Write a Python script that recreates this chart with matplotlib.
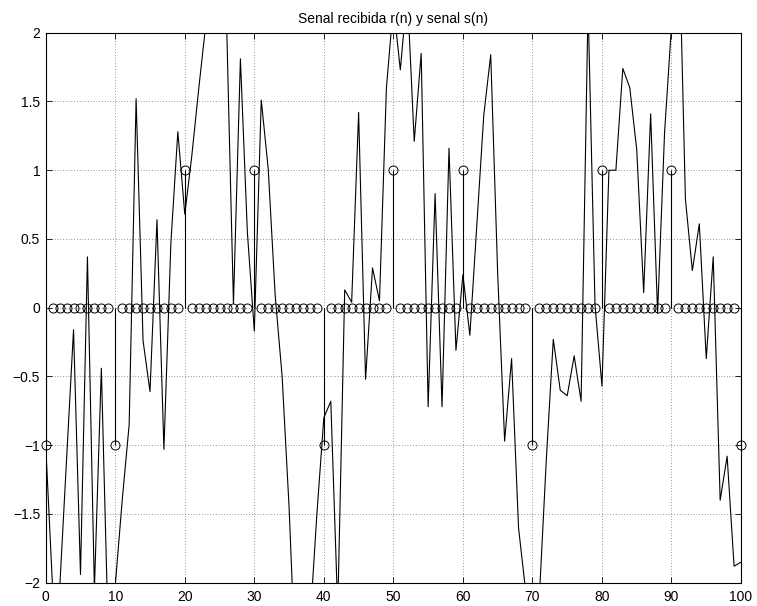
import numpy as np
import matplotlib
matplotlib.use("Agg")
import matplotlib.pyplot as plt

# Received signal r(n), n = 0..100
r_values = [
    -1.0, -2.05, -2.05, -1.1, -0.16, -1.94, 0.37, -2.05, -0.44, -2.4,
    -2.02, -1.4, -0.85, 1.52, -0.24, -0.61, 0.64, -1.03, 0.47, 1.28,
    0.68, 1.1, 1.59, 2.05, 2.6, 2.4, 2.1, 0.03, 1.81, 0.55,
    -0.17, 1.51, 1.01, 0.09, -0.5, -1.45, -2.7, -2.5, -2.3, -1.5,
    -0.8, -0.68, -2.2, 0.13, 0.04, 1.42, -0.52, 0.29, 0.05, 1.6,
    2.2, 1.73, 2.3, 1.21, 1.85, -0.72, 0.83, -0.72, 1.16, -0.31,
    0.24, -0.2, 0.6, 1.4, 1.84, 0.25, -0.97, -0.37, -1.6, -2.05,
    -2.5, -2.1, -1.1, -0.23, -0.6, -0.64, -0.35, -0.68, 2.2, 0.02,
    -0.57, 1.0, 1.0, 1.74, 1.6, 1.15, 0.11, 1.41, -0.04, 1.27,
    2.05, 2.9, 0.79, 0.27, 0.61, -0.37, 0.37, -1.4, -1.08, -1.88,
    -1.85,
]

# Transmitted signal s(n): nonzero samples (index -> value), zeros elsewhere
s_nonzero_n = [0, 10, 20, 30, 40, 50, 60, 70, 80, 90, 100]
s_nonzero_v = [-1, -1, 1, 1, -1, 1, 1, -1, 1, 1, -1]

x_ticks = [0, 10, 20, 30, 40, 50, 60, 70, 80, 90, 100]
y_ticks = [-2, -1.5, -1, -0.5, 0, 0.5, 1, 1.5, 2]
y_tick_labels = ["\u22122", "\u22121.5", "\u22121", "\u22120.5", "0", "0.5", "1", "1.5", "2"]
title_text = "Senal recibida r(n) y senal s(n)"

n = np.arange(len(r_values))
r = np.array(r_values)
s = np.zeros(len(r_values))
s[s_nonzero_n] = s_nonzero_v

plt.rcParams['font.family'] = ['Liberation Sans', 'DejaVu Sans']

fig = plt.figure(figsize=(7.57, 6.06), dpi=100)
ax = fig.add_axes([0.0604, 0.0384, 0.9185, 0.9076])

ax.plot(n, r, color='black', lw=0.8, zorder=3)
ax.vlines(n, 0, s, color='black', lw=0.8, zorder=3)
ax.plot(n, s, 'o', color='black', mfc='none', ms=6.5, mew=0.7, zorder=4, clip_on=False)

ax.set_xlim(0, 100)
ax.set_ylim(-2, 2)
ax.set_xticks(x_ticks)
ax.set_xticklabels([str(t) for t in x_ticks])
ax.set_yticks(y_ticks)
ax.set_yticklabels(y_tick_labels)

ax.grid(True, color='black', linestyle=(0, (1, 3)), lw=0.5, alpha=0.8)
ax.tick_params(direction='in', length=4, width=0.6, top=True, right=True,
               labelsize=10, pad=5)
ax.tick_params(axis='y', pad=4)
for sp in ax.spines.values():
    sp.set_linewidth(0.8)

ax.set_title(title_text, fontsize=10, pad=7)

fig.savefig("out.png", dpi=100)
